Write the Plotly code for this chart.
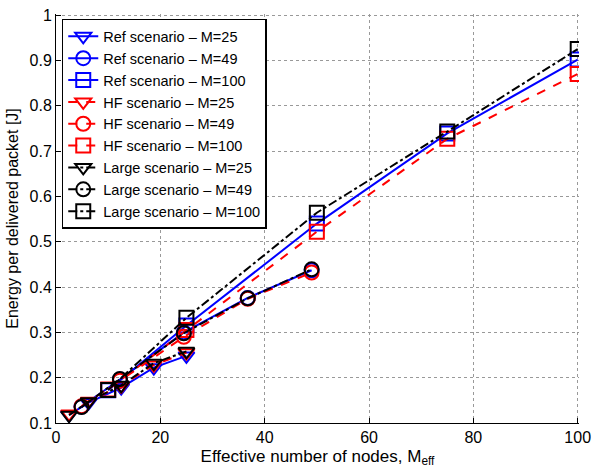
import plotly.graph_objects as go

x25 = [2.5, 6.25, 12.5, 18.75, 25]
x49 = [4.9, 12.25, 24.5, 36.75, 49]
x100 = [10, 25, 50, 75, 100]

ref25 = [0.118, 0.145, 0.178, 0.222, 0.248]
ref49 = [0.136, 0.196, 0.300, 0.376, 0.437]
ref100 = [0.172, 0.315, 0.540, 0.739, 0.902]

hf25 = [0.120, 0.148, 0.182, 0.228, 0.255]
hf49 = [0.137, 0.193, 0.290, 0.374, 0.432]
hf100 = [0.174, 0.305, 0.522, 0.727, 0.870]

lg25 = [0.117, 0.147, 0.183, 0.232, 0.258]
lg49 = [0.135, 0.197, 0.298, 0.375, 0.439]
lg100 = [0.173, 0.332, 0.564, 0.743, 0.925]

xticks = [0, 20, 40, 60, 80, 100]
yticks = [0.1, 0.2, 0.3, 0.4, 0.5, 0.6, 0.7, 0.8, 0.9, 1]

FONT = "Liberation Sans, Arial, sans-serif"

series = [
    ("Ref scenario \u2013 M=25", x25, ref25, "blue", "solid", "triangle-down-open"),
    ("Ref scenario \u2013 M=49", x49, ref49, "blue", "solid", "circle-open"),
    ("Ref scenario \u2013 M=100", x100, ref100, "blue", "solid", "square-open"),
    ("HF scenario \u2013 M=25", x25, hf25, "red", "dash", "triangle-down-open"),
    ("HF scenario \u2013 M=49", x49, hf49, "red", "dash", "circle-open"),
    ("HF scenario \u2013 M=100", x100, hf100, "red", "dash", "square-open"),
    ("Large scenario \u2013 M=25", x25, lg25, "black", "dashdot", "triangle-down-open"),
    ("Large scenario \u2013 M=49", x49, lg49, "black", "dashdot", "circle-open"),
    ("Large scenario \u2013 M=100", x100, lg100, "black", "dashdot", "square-open"),
]

fig = go.Figure()
for name, xs, ys, col, dash, sym in series:
    fig.add_trace(go.Scatter(
        x=xs, y=ys, name=name, mode="lines+markers",
        line=dict(color=col, width=2, dash=dash),
        marker=dict(symbol=sym, size=14, color=col, line=dict(width=2, color=col)),
    ))

axis_common = dict(
    showline=True, linecolor="black", linewidth=1,
    ticks="inside", ticklen=5, tickcolor="black",
    showgrid=True, gridcolor="#999", griddash="dot", gridwidth=1,
    zeroline=False, tickfont=dict(family=FONT, size=16, color="black"),
    ticklabeloverflow="allow",
)

fig.update_xaxes(range=[0, 100.25], tickvals=xticks, ticktext=[str(v) for v in xticks],
                 title=dict(text="Effective number of nodes, M<sub>eff</sub>", standoff=4,
                            font=dict(family=FONT, size=17, color="black")),
                 **axis_common)
fig.update_yaxes(range=[0.0999, 1.0025], tickvals=yticks, ticktext=[f"{v:g}" for v in yticks],
                 title=dict(text="Energy per delivered packet [J]", standoff=6,
                            font=dict(family=FONT, size=16, color="black")),
                 **axis_common)

fig.update_layout(
    width=598, height=470,
    margin=dict(l=56, r=13, t=7, b=47),
    plot_bgcolor="white", paper_bgcolor="white",
    font=dict(family=FONT, size=15, color="black"),
    legend=dict(x=0.011, y=0.988, xanchor="left", yanchor="top",
                bgcolor="white", bordercolor="black", borderwidth=1.5,
                font=dict(family=FONT, size=14.5, color="black"),
                tracegroupgap=0, itemwidth=30),
)

fig.write_html("out.html")
